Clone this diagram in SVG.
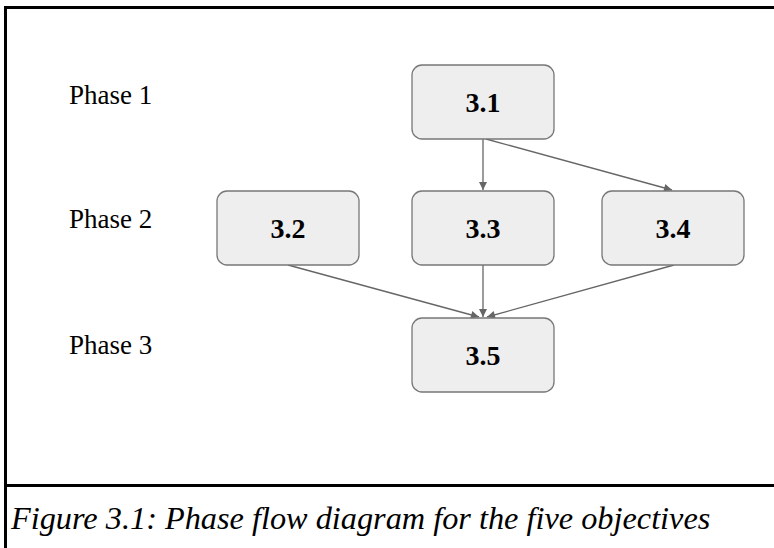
<svg xmlns="http://www.w3.org/2000/svg" width="774" height="548" viewBox="0 0 774 548">
<defs>
<style>
.frame{stroke:#000;stroke-width:3;fill:none}
.node rect{fill:#eeeeee;stroke:#777777;stroke-width:1.3}
.node text{font-weight:bold;font-size:28px;fill:#000;text-anchor:middle}
.phase{font-size:27px;fill:#000}
.edge{stroke:#666666;stroke-width:1.3;fill:none;marker-end:url(#arr)}
.cap{font-style:italic;font-size:32.3px;fill:#000}
</style>
<marker id="arr" viewBox="0 0 10 10" refX="10" refY="5" markerWidth="9" markerHeight="8" markerUnits="userSpaceOnUse" orient="auto">
<path d="M0,0 L10,5 L0,10 z" fill="#666666"/>
</marker>
</defs>
<rect width="774" height="548" fill="#fff"/>
<g id="frame">
<line class="frame" x1="5.5" y1="7.5" x2="774" y2="7.5"/>
<line class="frame" x1="5.5" y1="6" x2="5.5" y2="548"/>
<line class="frame" x1="5.5" y1="485.5" x2="774" y2="485.5"/>
</g>
<g id="phases" font-family="Liberation Serif, Times New Roman, Tinos, DejaVu Serif, serif">
<text class="phase" x="69" y="104">Phase 1</text>
<text class="phase" x="69" y="228">Phase 2</text>
<text class="phase" x="69" y="354">Phase 3</text>
</g>
<g id="connectors">
<line class="edge" x1="483" y1="139" x2="483" y2="190"/>
<line class="edge" x1="486" y1="139" x2="672" y2="190"/>
<line class="edge" x1="288" y1="265" x2="479" y2="317"/>
<line class="edge" x1="483" y1="265" x2="483" y2="317"/>
<line class="edge" x1="674" y1="265" x2="487" y2="317"/>
</g>
<g font-family="Liberation Serif, Times New Roman, Tinos, DejaVu Serif, serif">
<g id="n31" class="node"><rect x="412" y="65" width="142" height="74" rx="10"/><text x="483" y="112">3.1</text></g>
<g id="n32" class="node"><rect x="217" y="191" width="142" height="74" rx="10"/><text x="288" y="238">3.2</text></g>
<g id="n33" class="node"><rect x="412" y="191" width="142" height="74" rx="10"/><text x="483" y="238">3.3</text></g>
<g id="n34" class="node"><rect x="602" y="191" width="142" height="74" rx="10"/><text x="673" y="238">3.4</text></g>
<g id="n35" class="node"><rect x="412" y="318" width="142" height="74" rx="10"/><text x="483" y="365">3.5</text></g>
</g>
<text class="cap" font-family="Liberation Serif, Times New Roman, Tinos, DejaVu Serif, serif" x="11" y="529">Figure 3.1: Phase flow diagram for the five objectives</text>
</svg>
